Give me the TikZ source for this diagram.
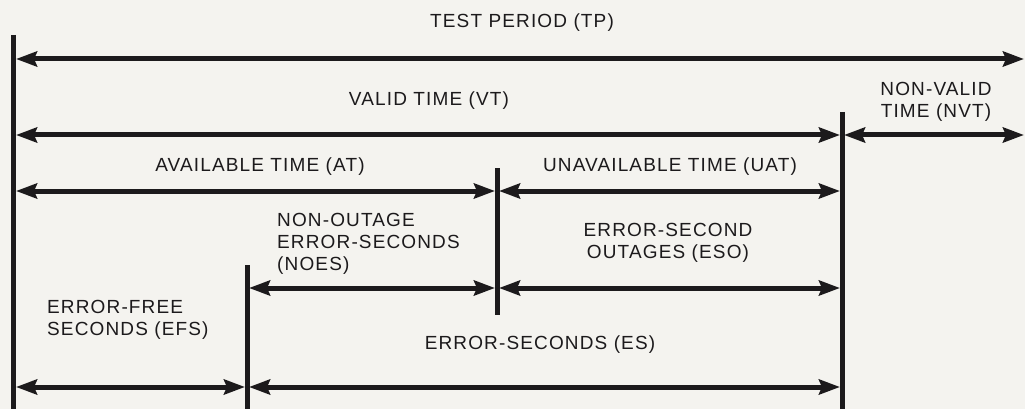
\documentclass[tikz,border=0pt]{standalone}
\usepackage{fontspec}
\newfontfamily\lblfont{Liberation Sans}[LetterSpace=6]
\usetikzlibrary{arrows.meta}
\definecolor{paper}{RGB}{244,243,239}
\definecolor{ink}{RGB}{28,26,28}
\tikzset{
  dim/.style={draw=ink, line width=5pt, {Stealth[length=21pt,width=15pt,inset=3pt]}-{Stealth[length=21pt,width=15pt,inset=3pt]}},
  divider/.style={draw=ink, line width=5pt},
  lbl/.style={text=ink, font=\lblfont\fontsize{19}{22}\selectfont, inner sep=0pt, yshift=-2.5pt},
}
\begin{document}
\begin{tikzpicture}[x=1pt,y=-1pt]
\fill[paper] (0,0) rectangle (1025,409);
\useasboundingbox (0,0) rectangle (1025,409);
% dividers
\coordinate (d0t) at (13,35);  \coordinate (d0b) at (13,409);
\coordinate (d1t) at (842,112); \coordinate (d1b) at (842,409);
\coordinate (d2t) at (497,168); \coordinate (d2b) at (497,315);
\coordinate (d3t) at (247,265); \coordinate (d3b) at (247,409);
\draw[divider] (d0t) -- (d0b);
\draw[divider] (d1t) -- (d1b);
\draw[divider] (d2t) -- (d2b);
\draw[divider] (d3t) -- (d3b);
% arrow end points
\coordinate (tpL) at (16,59);  \coordinate (tpR) at (1024,59);
\coordinate (vtL) at (16,135); \coordinate (vtR) at (840,135);
\coordinate (nvL) at (844,135); \coordinate (nvR) at (1024,135);
\coordinate (atL) at (16,191); \coordinate (atR) at (495,191);
\coordinate (uaL) at (499,191); \coordinate (uaR) at (840,191);
\coordinate (noL) at (249,288); \coordinate (noR) at (495,288);
\coordinate (esoL) at (499,288); \coordinate (esoR) at (840,288);
\coordinate (efL) at (16,387); \coordinate (efR) at (245,387);
\coordinate (esL) at (249,387); \coordinate (esR) at (840,387);
\draw[dim] (tpL) -- (tpR);
\draw[dim] (vtL) -- (vtR);
\draw[dim] (nvL) -- (nvR);
\draw[dim] (atL) -- (atR);
\draw[dim] (uaL) -- (uaR);
\draw[dim] (noL) -- (noR);
\draw[dim] (esoL) -- (esoR);
\draw[dim] (efL) -- (efR);
\draw[dim] (esL) -- (esR);
% labels
\node[lbl] (tp) at (522,20) {TEST PERIOD (TP)};
\node[lbl] (vt) at (429,98) {VALID TIME (VT)};
\node[lbl, align=center] (nvt) at (936,99) {NON-VALID\\TIME (NVT)};
\node[lbl] (at) at (260,164) {AVAILABLE TIME (AT)};
\node[lbl] (uat) at (670,164) {UNAVAILABLE TIME (UAT)};
\node[lbl, align=left, anchor=west] (noes) at (277,241) {NON-OUTAGE\\ERROR-SECONDS\\(NOES)};
\node[lbl, align=center] (eso) at (668,240) {ERROR-SECOND\\OUTAGES (ESO)};
\node[lbl, align=left, anchor=west] (efs) at (47,317) {ERROR-FREE\\SECONDS (EFS)};
\node[lbl] (es) at (540,342) {ERROR-SECONDS (ES)};
\end{tikzpicture}
\end{document}
